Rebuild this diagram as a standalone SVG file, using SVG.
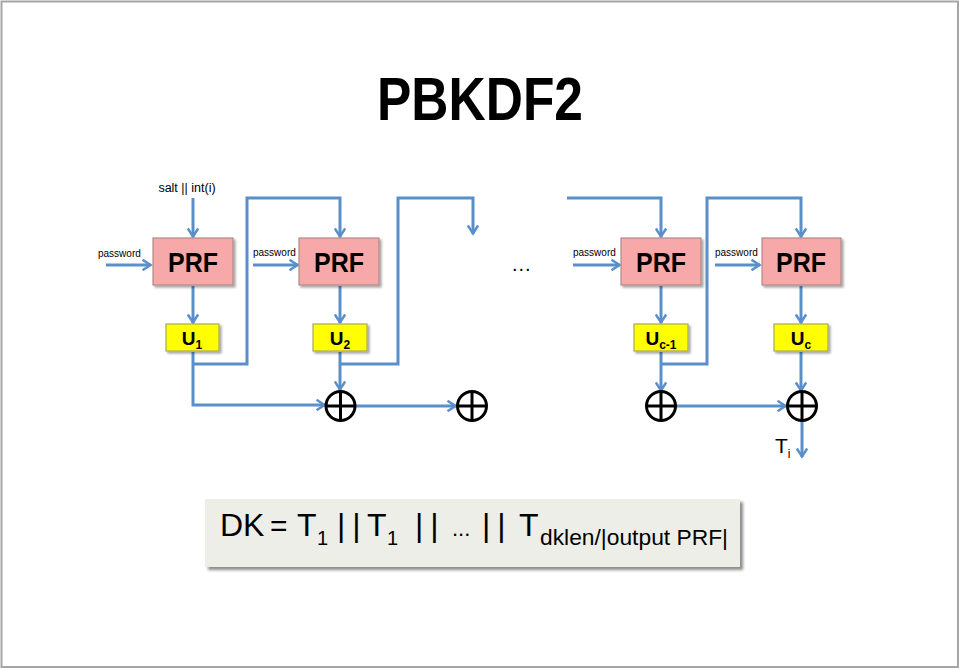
<svg xmlns="http://www.w3.org/2000/svg" width="960" height="670" viewBox="0 0 960 670">
<style>
.ln{fill:none;stroke:#5a8fc9;stroke-width:3;marker-end:url(#ah)}
.prf{fill:#f7a8a8;stroke:#b08a8a;stroke-width:1.2;filter:url(#sh)}
.ub{fill:#ffff00;stroke:#a8a860;stroke-width:1.2;filter:url(#sh)}
.xor{fill:none;stroke:#000;stroke-width:3}
.t{font-family:"Liberation Sans",Arial,sans-serif;fill:#000}
.b{font-weight:bold}
</style>
<defs>
<marker id="ah" viewBox="0 0 12 12" refX="10.5" refY="6" markerWidth="12" markerHeight="12" markerUnits="userSpaceOnUse" orient="auto">
<path d="M2,0.8 L10,6 L2,11.2" fill="none" stroke="#5a8fc9" stroke-width="2.5"/>
</marker>
<filter id="sh" x="-10%" y="-10%" width="130%" height="140%">
<feDropShadow dx="2" dy="2" stdDeviation="1.2" flood-color="#000" flood-opacity="0.35"/>
</filter>
<filter id="sh2" x="-5%" y="-10%" width="115%" height="130%">
<feDropShadow dx="3" dy="3" stdDeviation="1.5" flood-color="#000" flood-opacity="0.45"/>
</filter>
</defs>
<rect x="1.5" y="1.5" width="956.5" height="665.5" fill="#fff" stroke="#a6a6a6" stroke-width="2"/>
<text class="t b" x="480" y="120" font-size="62" text-anchor="middle" textLength="206" lengthAdjust="spacingAndGlyphs">PBKDF2</text>

<g id="connectors">
<path class="ln" d="M193,198 V237"/>
<path class="ln" d="M106,265 H151"/>
<path class="ln" d="M253,265 H298"/>
<path class="ln" d="M573,265 H620"/>
<path class="ln" d="M715,265 H760"/>
<path class="ln" d="M193,286 V323"/>
<path class="ln" d="M340,286 V323"/>
<path class="ln" d="M661,286 V323"/>
<path class="ln" d="M801,286 V323"/>
<path class="ln" d="M193,352 V405 H325"/>
<path class="ln" d="M193,364 H247 V198 H340 V237"/>
<path class="ln" d="M340,352 V390"/>
<path class="ln" d="M340,364 H398 V198 H473 V234"/>
<path class="ln" d="M355,406 H456"/>
<path class="ln" d="M567,198 H661 V237"/>
<path class="ln" d="M661,352 V391"/>
<path class="ln" d="M661,364 H707 V198 H801 V237"/>
<path class="ln" d="M676,406 H786"/>
<path class="ln" d="M801,352 V391"/>
<path class="ln" d="M802,421 V457"/>
</g>

<text class="t" x="187" y="192" font-size="12.5" text-anchor="middle">salt || int(i)</text>
<text class="t" x="98" y="257" font-size="10">password</text>
<text class="t" x="253" y="256" font-size="10">password</text>
<text class="t" x="573" y="256" font-size="10">password</text>
<text class="t" x="715" y="256" font-size="10">password</text>
<text class="t" x="512" y="271" font-size="20" letter-spacing="1">...</text>

<g id="prf1"><rect class="prf" x="153" y="238" width="80" height="47"/><text class="t b" x="193" y="272" font-size="28" text-anchor="middle" textLength="50" lengthAdjust="spacingAndGlyphs">PRF</text></g>
<g id="prf2"><rect class="prf" x="299" y="238" width="80" height="47"/><text class="t b" x="339" y="272" font-size="28" text-anchor="middle" textLength="50" lengthAdjust="spacingAndGlyphs">PRF</text></g>
<g id="prf3"><rect class="prf" x="621" y="238" width="80" height="47"/><text class="t b" x="661" y="272" font-size="28" text-anchor="middle" textLength="50" lengthAdjust="spacingAndGlyphs">PRF</text></g>
<g id="prf4"><rect class="prf" x="762" y="238" width="79" height="47"/><text class="t b" x="801" y="272" font-size="28" text-anchor="middle" textLength="50" lengthAdjust="spacingAndGlyphs">PRF</text></g>

<g id="u1"><rect class="ub" x="166" y="324" width="53" height="27"/><text class="t b" x="192" y="345" font-size="19" text-anchor="middle">U<tspan font-size="12" dy="4">1</tspan></text></g>
<g id="u2"><rect class="ub" x="313" y="324" width="54" height="27"/><text class="t b" x="340" y="345" font-size="19" text-anchor="middle">U<tspan font-size="12" dy="4">2</tspan></text></g>
<g id="uc1"><rect class="ub" x="634" y="324" width="54" height="27"/><text class="t b" x="661" y="345" font-size="19" text-anchor="middle">U<tspan font-size="12" dy="4">c-1</tspan></text></g>
<g id="uc"><rect class="ub" x="774" y="324" width="54" height="27"/><text class="t b" x="801" y="345" font-size="19" text-anchor="middle">U<tspan font-size="12" dy="4">c</tspan></text></g>

<g id="xor1"><circle class="xor" cx="340.5" cy="406" r="14.5"/><path class="xor" d="M326,406 H355 M340.5,391.5 V420.5"/></g>
<g id="xor2"><circle class="xor" cx="472" cy="406" r="14.5"/><path class="xor" d="M457.5,406 H486.5 M472,391.5 V420.5"/></g>
<g id="xor3"><circle class="xor" cx="661" cy="406" r="14.5"/><path class="xor" d="M646.5,406 H675.5 M661,391.5 V420.5"/></g>
<g id="xor4"><circle class="xor" cx="802" cy="406" r="14.5"/><path class="xor" d="M787.5,406 H816.5 M802,391.5 V420.5"/></g>

<text class="t" x="775" y="453" font-size="21">T<tspan font-size="12" dy="5">i</tspan></text>

<g id="dk">
<rect x="205" y="499" width="535" height="68" fill="#eeeee8" filter="url(#sh2)"/>
<text class="t" x="220" y="536" font-size="32">DK</text>
<text class="t" x="270" y="536" font-size="30">=</text>
<text class="t" x="297" y="536" font-size="32">T</text>
<text class="t" x="317" y="545" font-size="20">1</text>
<text class="t" x="337" y="536" font-size="32">|<tspan dx="7">|</tspan></text>
<text class="t" x="367" y="536" font-size="32">T</text>
<text class="t" x="387" y="545" font-size="20">1</text>
<text class="t" x="415" y="536" font-size="32">|<tspan dx="7">|</tspan></text>
<text class="t" x="452" y="536" font-size="22">...</text>
<text class="t" x="482" y="536" font-size="32">|<tspan dx="7">|</tspan></text>
<text class="t" x="519" y="536" font-size="32">T</text>
<text class="t" x="540" y="545" font-size="22" textLength="188" lengthAdjust="spacingAndGlyphs">dklen/|output PRF|</text>
</g>
</svg>
